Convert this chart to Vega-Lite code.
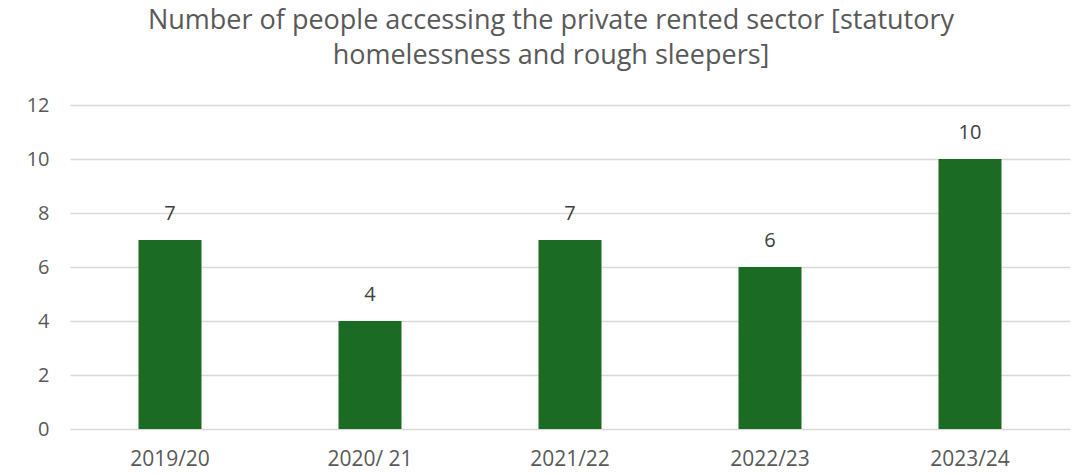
{
  "$schema": "https://vega.github.io/schema/vega-lite/v6.json",
  "width": 1000,
  "height": 324,
  "autosize": {"type": "none"},
  "padding": {"left": 70, "top": 105, "right": 6, "bottom": 46},
  "background": "white",
  "title": {
    "text": ["Number of people accessing the private rented sector [statutory", "homelessness and rough sleepers]"],
    "font": "Open Sans",
    "fontSize": 27,
    "fontWeight": "normal",
    "color": "#595959",
    "anchor": "middle",
    "lineHeight": 35,
    "dx": -19,
    "offset": 25
  },
  "data": {
    "values": [
      {"year": "2019/20", "people": 7},
      {"year": "2020/ 21", "people": 4},
      {"year": "2021/22", "people": 7},
      {"year": "2022/23", "people": 6},
      {"year": "2023/24", "people": 10}
    ]
  },
  "encoding": {
    "x": {
      "field": "year",
      "type": "nominal",
      "sort": null,
      "scale": {"paddingInner": 0.685, "paddingOuter": 0.3425},
      "axis": {
        "title": null,
        "labelAngle": 0,
        "labelFont": "Open Sans",
        "labelFontSize": 21,
        "labelColor": "#595959",
        "labelPadding": 19,
        "domain": false,
        "ticks": false,
        "grid": false
      }
    },
    "y": {
      "field": "people",
      "type": "quantitative",
      "scale": {"domain": [0, 12]},
      "axis": {
        "title": null,
        "values": [0, 2, 4, 6, 8, 10, 12],
        "labelFont": "Open Sans",
        "labelFontSize": 20,
        "labelColor": "#595959",
        "labelPadding": 21,
        "domain": false,
        "ticks": false,
        "grid": true,
        "gridColor": "#d9d9d9",
        "gridWidth": 1.5
      }
    }
  },
  "layer": [
    {"mark": {"type": "bar", "color": "#1b6b25"}},
    {
      "mark": {"type": "text", "dy": -26, "font": "Open Sans", "fontSize": 20, "color": "#404040"},
      "encoding": {"text": {"field": "people", "type": "quantitative"}}
    }
  ],
  "config": {"view": {"stroke": null}}
}
